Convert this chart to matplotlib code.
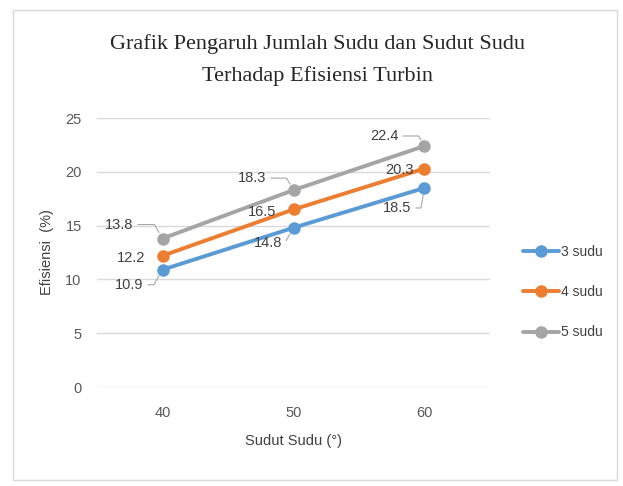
import matplotlib
matplotlib.use("Agg")
import matplotlib.pyplot as plt
from matplotlib.patches import Rectangle

categories = ["40", "50", "60"]
series_names = ["3 sudu", "4 sudu", "5 sudu"]
sudu3 = [10.9, 14.8, 18.5]
sudu4 = [12.2, 16.5, 20.3]
sudu5 = [13.8, 18.3, 22.4]
yticks = [0, 5, 10, 15, 20, 25]

colors = ["#5B9BD5", "#ED7D31", "#A5A5A5"]
sans = ["Liberation Sans Narrow", "DejaVu Sans Condensed", "Liberation Sans", "DejaVu Sans"]

fig = plt.figure(figsize=(6.23, 4.86), dpi=100)
fig.patches.append(Rectangle((13/623, 1-480/486), 604/623, 470/486, transform=fig.transFigure,
                             fill=False, edgecolor="#D9D9D9", lw=1))
ax = fig.add_axes([97/623, 1-387/486, 393/623, 269/486])

x = list(range(len(categories)))
data = [sudu3, sudu4, sudu5]
for vals, name, c in zip(data, series_names, colors):
    ax.plot(x, vals, color=c, lw=2.8, marker="o", ms=8, label=name, solid_capstyle="round", zorder=3)

# label offsets in pixels (dx, dy) and leader line angle (None = no leader)
offsets = [
    [(-33, -15, 60), (-25, -15, 60), (-27, -20, 80)],
    [(-31, -2, None), (-31, -3, None), (-25, -1, None)],
    [(-43, 14, 120), (-41, 12, 120), (-40, 10, 120)],
]
for vals, offs in zip(data, offsets):
    for xi, v, (dx, dy, ang) in zip(x, vals, offs):
        kw = {}
        if ang is not None:
            kw["arrowprops"] = dict(arrowstyle="-", color="#A6A6A6", lw=0.8,
                                    shrinkA=1, shrinkB=5,
                                    connectionstyle=f"angle,angleA=0,angleB={ang},rad=0")
        ax.annotate(f"{v}", (xi, v), xytext=(dx, dy), textcoords="offset pixels",
                    ha="center", va="center", fontsize=10.5, color="#404040",
                    family=sans, **kw)

ax.set_xlim(-0.5, 2.5)
ax.set_ylim(0, 25)
ax.set_yticks(yticks)
ax.set_xticks(x)
ax.set_xticklabels(categories)
ax.grid(axis="y", color="#D9D9D9", lw=1)
ax.set_axisbelow(True)
for s in ax.spines.values():
    s.set_visible(False)
ax.tick_params(length=0, labelsize=10.5, labelcolor="#595959")
for lab in ax.get_xticklabels() + ax.get_yticklabels():
    lab.set_family(sans)
ax.tick_params(axis="x", pad=14)
ax.tick_params(axis="y", pad=11)

ax.set_xlabel("Sudut Sudu (°)", fontsize=10.5, color="#404040", family=sans, labelpad=10)
ax.set_ylabel("Efisiensi  (%)", fontsize=10.5, color="#404040", family=sans, labelpad=8)

fig.text(317/623, 1-44/486, "Grafik Pengaruh Jumlah Sudu dan Sudut Sudu", ha="center", va="center",
         fontsize=16, family=["Liberation Serif", "DejaVu Serif"], color="#262626")
fig.text(317/623, 1-76/486, "Terhadap Efisiensi Turbin", ha="center", va="center",
         fontsize=16, family=["Liberation Serif", "DejaVu Serif"], color="#262626")

leg = fig.legend(loc="center left", bbox_to_anchor=(510/623, 1-292/486), frameon=False,
                 prop={"family": sans, "size": 10}, labelspacing=1.9, handlelength=2.6,
                 handletextpad=0.2, labelcolor="#404040")

fig.savefig("out.png", dpi=100)
